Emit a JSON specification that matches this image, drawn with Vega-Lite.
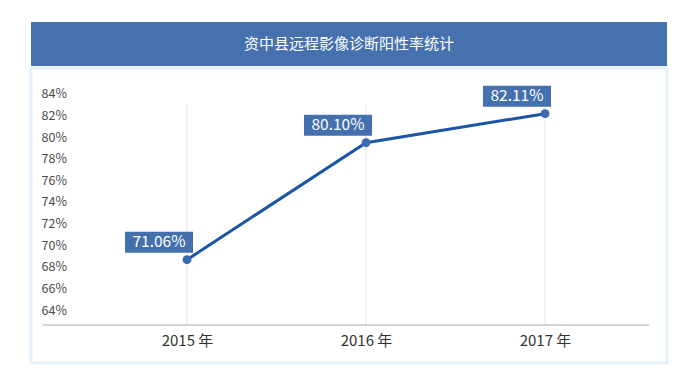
{
  "$schema": "https://vega.github.io/schema/vega-lite/v6.json",
  "padding": {"left": 29, "top": 22, "right": 27, "bottom": 29},
  "background": "white",
  "spacing": 0,
  "config": {"view": {"stroke": null}, "font": "Noto Sans CJK SC", "concat": {"spacing": 0}, "axis": {"labelOverlap": false, "labelSeparation": 0}},
  "vconcat": [
    {
      "width": 636,
      "height": 44,
      "view": {"fill": "#4670ae", "stroke": null},
      "data": {"values": [{"title": "资中县远程影像诊断阳性率统计"}]},
      "mark": {"type": "text", "color": "white", "fontSize": 15, "font": "Noto Sans CJK SC", "baseline": "middle", "align": "center"},
      "encoding": {"text": {"field": "title"}}
    },
    {
      "width": 636,
      "height": 295,
      "view": {"stroke": "#e4f1fa", "strokeWidth": 3},
      "data": {"values": [
        {"year": 2015, "value": 68.66, "label": "71.06%"},
        {"year": 2016, "value": 79.49, "label": "80.10%"},
        {"year": 2017, "value": 82.18, "label": "82.11%"}
      ]},
      "encoding": {
        "x": {"field": "year", "type": "quantitative",
          "scale": {"domain": [2014.1285, 2017.6816], "nice": false, "zero": false},
          "axis": {"values": [2015, 2016, 2017], "labelExpr": "datum.value + ' 年'", "title": null, "grid": false, "ticks": false, "domain": false, "offset": -38, "labelPadding": 8, "labelFontSize": 15, "labelColor": "#333333", "labelOverlap": false}},
        "y": {"field": "value", "type": "quantitative",
          "scale": {"domain": [59.093, 86.407], "nice": false, "zero": false},
          "axis": {"values": [64, 66, 68, 70, 72, 74, 76, 78, 80, 82, 84], "labelExpr": "datum.value + '%'", "title": null, "grid": false, "ticks": false, "domain": false, "labelAlign": "left", "labelPadding": -10, "labelFontSize": 12.5, "labelColor": "#4a4a4a", "labelOverlap": false, "labelBaseline": "middle"}}
      },
      "layer": [
        {
          "mark": {"type": "rule", "color": "#e4e4e4", "strokeWidth": 1},
          "encoding": {
            "y": {"datum": 83.07, "type": "quantitative", "scale": {"domain": [59.093, 86.407], "nice": false, "zero": false},
              "axis": {"values": [64, 66, 68, 70, 72, 74, 76, 78, 80, 82, 84], "labelExpr": "datum.value + '%'", "title": null, "grid": false, "ticks": false, "domain": false, "labelAlign": "left", "labelPadding": -10, "labelFontSize": 12.5, "labelColor": "#4a4a4a", "labelOverlap": false, "labelBaseline": "middle"}},
            "y2": {"datum": 62.61}
          }
        },
        {
          "mark": {"type": "rule", "color": "#cccccc", "strokeWidth": 1},
          "encoding": {
            "x": {"datum": 2014.196, "type": "quantitative", "scale": {"domain": [2014.1285, 2017.6816], "nice": false, "zero": false},
              "axis": {"values": [2015, 2016, 2017], "labelExpr": "datum.value + ' 年'", "title": null, "grid": false, "ticks": false, "domain": false, "offset": -38, "labelPadding": 8, "labelFontSize": 15, "labelColor": "#333333", "labelOverlap": false}},
            "x2": {"datum": 2017.581},
            "y": {"datum": 62.61, "type": "quantitative", "scale": {"domain": [59.093, 86.407], "nice": false, "zero": false},
              "axis": {"values": [64, 66, 68, 70, 72, 74, 76, 78, 80, 82, 84], "labelExpr": "datum.value + '%'", "title": null, "grid": false, "ticks": false, "domain": false, "labelAlign": "left", "labelPadding": -10, "labelFontSize": 12.5, "labelColor": "#4a4a4a", "labelOverlap": false, "labelBaseline": "middle"}}
          }
        },
        {
          "mark": {"type": "line", "color": "#1c55a6", "strokeWidth": 3}
        },
        {
          "mark": {"type": "circle", "color": "#3c6cb0", "opacity": 1, "size": 80}
        },
        {
          "mark": {"type": "point", "shape": "M-62,-28H6V-7H-62Z", "filled": true, "fill": "#4570ae", "opacity": 1, "size": 4, "strokeWidth": 0}
        },
        {
          "mark": {"type": "text", "color": "white", "fontSize": 15.5, "dx": -28, "dy": -17.5, "align": "center", "baseline": "middle", "font": "Noto Sans CJK SC"},
          "encoding": {"text": {"field": "label"}}
        }
      ]
    }
  ]
}
